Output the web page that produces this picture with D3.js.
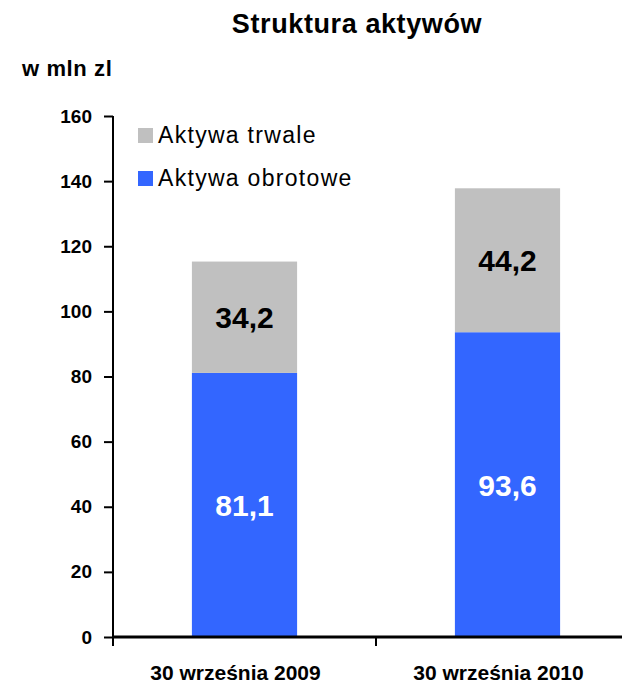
<!DOCTYPE html>
<html>
<head>
<meta charset="utf-8">
<script src="https://cdn.jsdelivr.net/npm/d3@7"></script>
<style>
  body { margin: 0; background: #fff; }
  text { font-family: "Liberation Sans", Arial, sans-serif; }
</style>
</head>
<body>
<svg id="chart" width="622" height="687"></svg>
<script>
// data
const categories = ['30 września 2009', '30 września 2010'];
const obrotowe = [81.1, 93.6];
const trwale = [34.2, 44.2];
const yTicks = [0, 20, 40, 60, 80, 100, 120, 140, 160];
const seriesNames = ['Aktywa trwale', 'Aktywa obrotowe'];
const colors = { trwale: '#c0c0c0', obrotowe: '#3366ff' };

const svg = d3.select('#chart');
const plotL = 113, plotR = 639, plotT = 116, plotB = 637;

const x = d3.scaleBand().domain(categories).range([plotL, plotR]).paddingInner(0).paddingOuter(0);
const y = d3.scaleLinear().domain([0, 160]).range([plotB, plotT]);
const barW = x.bandwidth() * 0.4;

// title
svg.append('text')
  .attr('x', 357).attr('y', 33)
  .attr('text-anchor', 'middle')
  .attr('font-size', 27).attr('font-weight', 'bold')
  .attr('letter-spacing', 0.6)
  .text('Struktura aktywów');

svg.append('text')
  .attr('x', 22).attr('y', 76)
  .attr('font-size', 22).attr('font-weight', 'bold')
  .attr('letter-spacing', 0.6)
  .text('w mln zl');

// bars
const rows = categories.map((c, i) => ({ c, o: obrotowe[i], t: trwale[i] }));
const g = svg.append('g');

g.selectAll('.bo').data(rows).enter().append('rect')
  .attr('x', d => x(d.c) + (x.bandwidth() - barW) / 2)
  .attr('width', barW)
  .attr('y', d => y(d.o))
  .attr('height', d => y(0) - y(d.o))
  .attr('fill', colors.obrotowe);

g.selectAll('.bt').data(rows).enter().append('rect')
  .attr('x', d => x(d.c) + (x.bandwidth() - barW) / 2)
  .attr('width', barW)
  .attr('y', d => y(d.o + d.t))
  .attr('height', d => y(d.o) - y(d.o + d.t))
  .attr('fill', colors.trwale);

const fmt = v => v.toFixed(1).replace('.', ',');

g.selectAll('.lo').data(rows).enter().append('text')
  .attr('x', d => x(d.c) + x.bandwidth() / 2)
  .attr('y', d => y(d.o / 2) + 11)
  .attr('text-anchor', 'middle')
  .attr('font-size', 30).attr('font-weight', 'bold')
  .attr('fill', '#fff')
  .text(d => fmt(d.o));

g.selectAll('.lt').data(rows).enter().append('text')
  .attr('x', d => x(d.c) + x.bandwidth() / 2)
  .attr('y', d => y(d.o + d.t / 2) + 11)
  .attr('text-anchor', 'middle')
  .attr('font-size', 30).attr('font-weight', 'bold')
  .attr('fill', '#000')
  .text(d => fmt(d.t));

// y axis
const yAxis = svg.append('g')
  .attr('transform', `translate(${plotL},0)`)
  .call(d3.axisLeft(y).tickValues(yTicks).tickSize(9).tickPadding(12).tickFormat(d3.format('d')));
yAxis.select('.domain').attr('stroke', '#000').attr('stroke-width', 2).attr('d', `M0,${plotT}V${plotB}`);
yAxis.selectAll('.tick line').attr('stroke', '#000').attr('stroke-width', 2);
yAxis.selectAll('.tick text')
  .attr('font-size', 19).attr('font-weight', 'bold').attr('fill', '#000')
  .attr('font-family', '"Liberation Sans", Arial, sans-serif');

// x axis
const xAxis = svg.append('g').attr('transform', `translate(0,${plotB})`);
xAxis.append('line').attr('x1', plotL - 1).attr('x2', 622).attr('stroke', '#000').attr('stroke-width', 3);
xAxis.selectAll('.xt').data([plotL, ...categories.map(c => x(c) + x.bandwidth())])
  .enter().append('line')
  .attr('x1', d => d).attr('x2', d => d).attr('y1', 0).attr('y2', 9)
  .attr('stroke', '#000').attr('stroke-width', 2);
xAxis.selectAll('.xl').data(categories).enter().append('text')
  .attr('x', d => x(d) + x.bandwidth() / 2 - 9)
  .attr('y', 43)
  .attr('text-anchor', 'middle')
  .attr('font-size', 21).attr('font-weight', 'bold')
  .text(d => d);

// legend
const leg = svg.append('g');
const legItems = [{ name: seriesNames[0], color: colors.trwale }, { name: seriesNames[1], color: colors.obrotowe }];
leg.selectAll('rect').data(legItems).enter().append('rect')
  .attr('x', 138).attr('y', (d, i) => 128 + i * 43)
  .attr('width', 15).attr('height', 15)
  .attr('fill', d => d.color);
leg.selectAll('text').data(legItems).enter().append('text')
  .attr('x', 158).attr('y', (d, i) => 143 + i * 43)
  .attr('font-size', 23)
  .attr('letter-spacing', 1.3)
  .text(d => d.name);
</script>
</body>
</html>
